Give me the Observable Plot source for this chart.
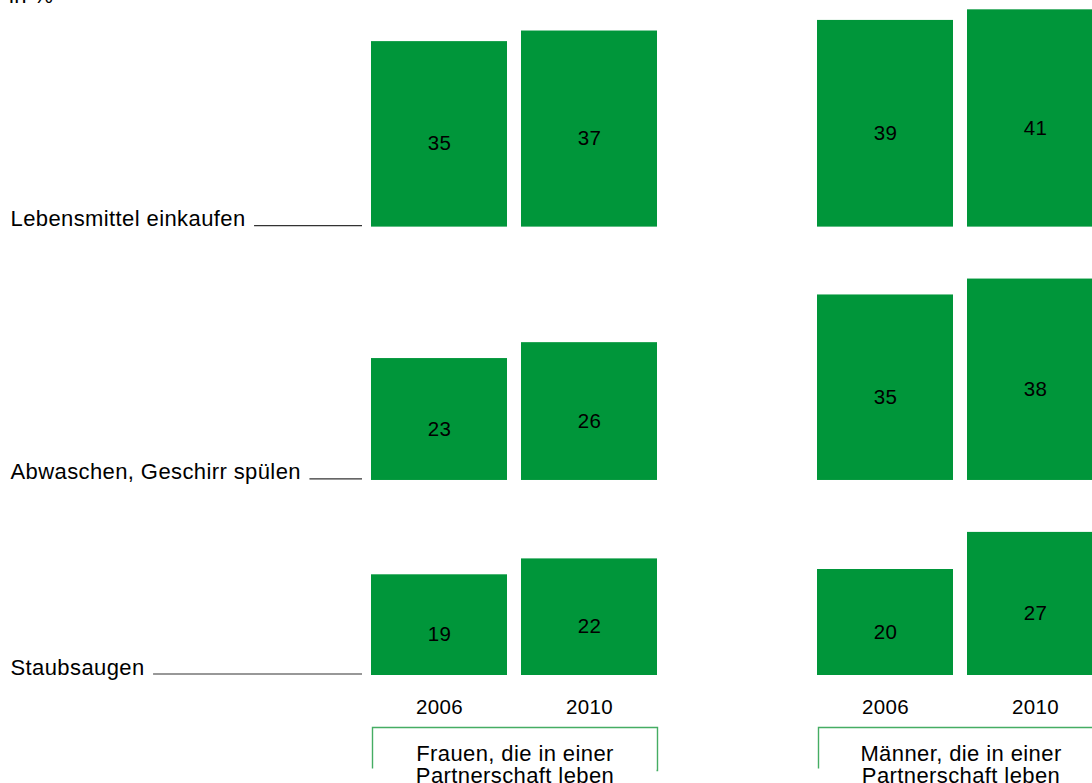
<!DOCTYPE html>
<html>
<head>
<meta charset="utf-8">
<script src="https://cdn.jsdelivr.net/npm/d3@7"></script>
<script src="https://cdn.jsdelivr.net/npm/@observablehq/plot@0.6"></script>
<style>
  html, body { margin: 0; padding: 0; background: #fff; overflow: hidden; width: 1092px; height: 783px; }
  #wrap { position: relative; width: 1092px; height: 783px; overflow: hidden; }
  #unit { position: absolute; left: 9px; top: -15px; font: 22px "Liberation Sans", Arial, sans-serif; letter-spacing: 0.4px; line-height: 22px; color: #000; z-index: 2; }
  #chart { position: absolute; left: 0; top: 0; }
</style>
</head>
<body>
<div id="wrap">
  <div id="unit">in %</div>
  <div id="chart"></div>
</div>
<script>
// ---- data ----
const tasks = ["Lebensmittel einkaufen", "Abwaschen, Geschirr spülen", "Staubsaugen"];
const years = ["2006", "2010"];
const groups = ["Frauen", "Männer"];
const groupLabels = ["Frauen, die in einer\nPartnerschaft leben", "Männer, die in einer\nPartnerschaft leben"];
const frauen2006 = [35, 23, 19];
const frauen2010 = [37, 26, 22];
const maenner2006 = [39, 35, 20];
const maenner2010 = [41, 38, 27];

// ---- layout / style ----
const FONT = '"Liberation Sans", Arial, sans-serif';
const FS = 22, LS = 0.4, NUM_FS = 20.5;
const INK = "#000";
const GREEN = "#00963a";
const BOX = "#45ad63";
const W = 1105, H = 783, ML = 370, MB = 108;
const UNIT_PX = 5.3;           // pixels per percentage point
const GAP = 9.8;               // gap between rows (in % units)

const series = {Frauen: {"2006": frauen2006, "2010": frauen2010}, "Männer": {"2006": maenner2006, "2010": maenner2010}};

// stacked row baselines derived from row maxima (bottom row at 0)
const rowMax = tasks.map((_, i) => Math.max(frauen2006[i], frauen2010[i], maenner2006[i], maenner2010[i]));
const offsets = new Array(tasks.length);
offsets[tasks.length - 1] = 0;
for (let i = tasks.length - 2; i >= 0; --i) offsets[i] = offsets[i + 1] + rowMax[i + 1] + GAP;

const data = [];
groups.forEach(g => years.forEach(y => tasks.forEach((t, i) => {
  data.push({group: g, year: y, task: t, base: offsets[i], value: series[g][y][i]});
})));
const yearCells = groups.flatMap(g => years.map(y => ({group: g, year: y})));

// measure row label widths for leader lines
const ctx = document.createElement("canvas").getContext("2d");
ctx.font = `${FS}px ${FONT}`;
let lsSupported = false;
try { ctx.letterSpacing = `${LS}px`; lsSupported = ctx.letterSpacing === `${LS}px`; } catch (e) {}
const textW = t => ctx.measureText(t).width + (lsSupported ? 0 : t.length * LS);

const LABEL_X = 9;
const leaderMarks = tasks.map((t, i) => {
  const start = LABEL_X + textW(t) + 9;
  return Plot.ruleY([offsets[i]], {
    fx: () => groups[0],
    stroke: "#333", strokeWidth: 1.2, dy: -1.5,
    insetLeft: start - ML,
    insetRight: 296
  });
});

// open box (top + sides) under each group
const BOX_TOP = 727, BOX_BOTTOM = 770, BOX_IL = 1, BOX_IR = 1;
const boxW = 288 - BOX_IL - BOX_IR, boxH = BOX_BOTTOM - BOX_TOP;

const chart = Plot.plot({
  width: W, height: H,
  marginLeft: ML, marginRight: 0, marginTop: 0, marginBottom: MB,
  style: {fontFamily: FONT, fontSize: `${FS}px`, letterSpacing: `${LS}px`, color: INK, background: "transparent", maxWidth: "none"},
  fx: {domain: groups, paddingInner: 0.3557, paddingOuter: 0, axis: null},
  x: {domain: years, paddingInner: 0.0927, paddingOuter: 0, axis: null},
  y: {domain: [0, (H - MB) / UNIT_PX], axis: null},
  marks: [
    Plot.barY(data, {fx: "group", x: "year", y1: "base", y2: d => d.base + d.value, fill: GREEN}),
    Plot.text(data, {fx: "group", x: "year", y: d => d.base + d.value / 2, text: d => String(d.value), dy: 9.5, lineAnchor: "middle", fontSize: NUM_FS, fill: INK}),
    Plot.text(tasks, {fx: () => groups[0], y: (d, i) => offsets[i], text: d => d, frameAnchor: "left", dx: LABEL_X - ML, dy: -1, textAnchor: "start", lineAnchor: "bottom", fill: INK}),
    ...leaderMarks,
    Plot.text(yearCells, {fx: "group", x: "year", text: "year", frameAnchor: "bottom", dy: 31.5, lineAnchor: "middle", fontSize: NUM_FS, fill: INK}),
    Plot.frame({stroke: BOX, strokeWidth: 1.4, insetTop: BOX_TOP, insetBottom: (H - MB) - BOX_BOTTOM, insetLeft: BOX_IL, insetRight: BOX_IR,
      strokeDasharray: `${boxW + boxH} ${boxW} ${boxH + 10}`}),
    Plot.text(groups, {fx: d => d, text: (d, i) => groupLabels[i], frameAnchor: "bottom", dy: 89, lineAnchor: "middle", lineHeight: 1.0, fill: INK})
  ]
});
document.getElementById("chart").appendChild(chart);
</script>
</body>
</html>
